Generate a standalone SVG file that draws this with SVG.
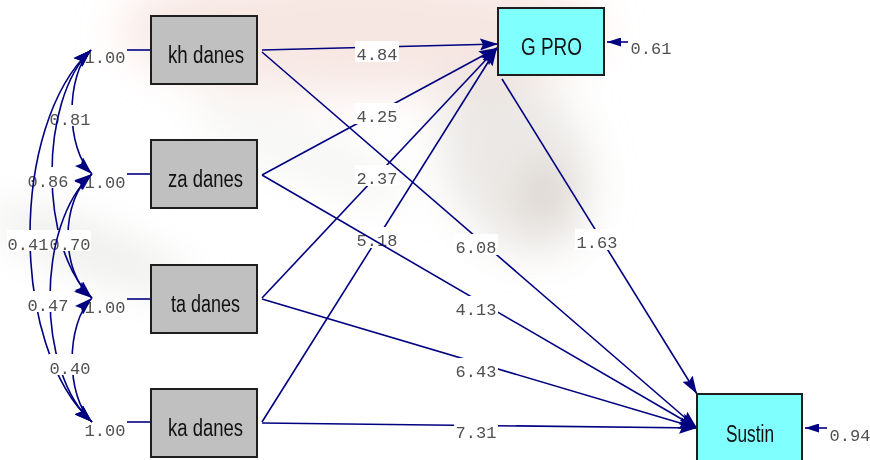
<svg xmlns="http://www.w3.org/2000/svg" width="870" height="460" viewBox="0 0 870 460">
  <defs>
    <filter id="soft" x="-50%" y="-50%" width="200%" height="200%">
      <feGaussianBlur stdDeviation="22"/>
    </filter>
    <marker id="ah" viewBox="0 0 18 12" refX="18" refY="6" markerWidth="18" markerHeight="12" markerUnits="userSpaceOnUse" orient="auto-start-reverse">
      <path d="M0,0 L18,6 L0,12 L3,6 Z" fill="#000080"/>
    </marker>
    <marker id="ahs" viewBox="0 0 14 9" refX="14" refY="4.5" markerWidth="14" markerHeight="9" markerUnits="userSpaceOnUse" orient="auto">
      <path d="M0,0 L14,4.5 L0,9 Z" fill="#000080"/>
    </marker>
  </defs>
  <style>
    .obs rect { fill: #c0c0c0; stroke: #1e1e1e; stroke-width: 2; }
    .lat rect { fill: #80ffff; stroke: #1e1e1e; stroke-width: 2; }
    .name { font-family: "Liberation Sans", Arial, sans-serif; font-size: 23px; fill: #111; }
    .num { font-family: "Liberation Mono", "Courier New", monospace; font-size: 17px; fill: #505050; text-anchor: middle; }
    .bg { fill: #ffffff; }
    .ln { fill: none; stroke: #000080; stroke-width: 1.6; }
    .arr { marker-end: url(#ah); }
    .err { marker-end: url(#ahs); }
    .dbl { marker-start: url(#ah); marker-end: url(#ah); }
  </style>

  <!-- faint watermark photo behind the model -->
  <rect width="870" height="460" fill="#ffffff"/>
  <g filter="url(#soft)">
    <ellipse cx="360" cy="30" rx="240" ry="65" fill="#f2dad4" opacity="0.65"/>
    <ellipse cx="515" cy="160" rx="70" ry="100" fill="#d2cec8" opacity="0.45" transform="rotate(-25 515 160)"/>
    <ellipse cx="545" cy="195" rx="22" ry="32" fill="#bfaea6" opacity="0.4"/>
    <ellipse cx="90" cy="250" rx="110" ry="22" fill="#dcdcd8" opacity="0.55" transform="rotate(20 90 250)"/>
    <ellipse cx="300" cy="150" rx="120" ry="25" fill="#e8e8e4" opacity="0.45" transform="rotate(25 300 150)"/>
  </g>

  <!-- variances of the observed variables -->
  <g id="variances">
    <line class="ln" x1="127" y1="50" x2="151" y2="50"/>
    <line class="ln" x1="127" y1="174" x2="151" y2="174"/>
    <line class="ln" x1="127" y1="299" x2="151" y2="299"/>
    <line class="ln" x1="127" y1="422" x2="151" y2="422"/>
    <text class="num" x="105" y="63">1.00</text>
    <text class="num" x="105" y="188">1.00</text>
    <text class="num" x="105" y="313">1.00</text>
    <text class="num" x="105" y="436">1.00</text>
  </g>

  <g id="connectors">
    <!-- covariances between the four observed variables -->
    <g>
      <path class="ln dbl" d="M91,50 C65.5,75 65.5,149 92,174"/>
      <rect class="bg" x="49" y="105" width="42" height="21"/>
      <text class="num" x="70" y="125">0.81</text>
    </g>
    <g>
      <path class="ln dbl" d="M91,50 C38.8,100 38.8,248 92,298"/>
      <rect class="bg" x="27" y="167" width="42" height="21"/>
      <text class="num" x="48" y="187">0.86</text>
    </g>
    <g>
      <path class="ln dbl" d="M91,50 C9.5,125 9.5,347 92,422"/>
      <rect class="bg" x="7" y="230" width="42" height="21"/>
      <text class="num" x="28" y="250">0.41</text>
    </g>
    <g>
      <path class="ln dbl" d="M92,174 C60,199 60,273 92,298"/>
      <rect class="bg" x="49" y="230" width="42" height="21"/>
      <text class="num" x="70" y="250">0.70</text>
    </g>
    <g>
      <path class="ln dbl" d="M92,174 C36,224 36,372 92,422"/>
      <rect class="bg" x="27" y="291" width="42" height="21"/>
      <text class="num" x="48" y="311">0.47</text>
    </g>
    <g>
      <path class="ln dbl" d="M92,298 C65.5,323 65.5,397 92,422"/>
      <rect class="bg" x="49" y="354" width="42" height="21"/>
      <text class="num" x="70" y="374">0.40</text>
    </g>

    <!-- paths into G PRO -->
    <g>
      <line class="ln arr" x1="262" y1="50" x2="498" y2="44"/>
      <rect class="bg" x="355" y="41" width="44" height="21"/>
      <text class="num" x="377" y="60">4.84</text>
    </g>
    <g>
      <line class="ln arr" x1="262" y1="175" x2="497" y2="48"/>
      <rect class="bg" x="355" y="103" width="44" height="21"/>
      <text class="num" x="377" y="122">4.25</text>
    </g>
    <g>
      <line class="ln arr" x1="262" y1="298" x2="497" y2="48"/>
      <rect class="bg" x="355" y="165" width="44" height="21"/>
      <text class="num" x="377" y="184">2.37</text>
    </g>
    <g>
      <line class="ln arr" x1="262" y1="422" x2="497" y2="48"/>
      <rect class="bg" x="355" y="227" width="44" height="21"/>
      <text class="num" x="377" y="246">5.18</text>
    </g>

    <!-- paths into Sustin -->
    <g>
      <line class="ln arr" x1="262" y1="52" x2="697" y2="428"/>
      <rect class="bg" x="454" y="234" width="44" height="21"/>
      <text class="num" x="476" y="253">6.08</text>
    </g>
    <g>
      <line class="ln arr" x1="262" y1="175" x2="697" y2="428"/>
      <rect class="bg" x="454" y="296" width="44" height="21"/>
      <text class="num" x="476" y="315">4.13</text>
    </g>
    <g>
      <line class="ln arr" x1="262" y1="299" x2="697" y2="428"/>
      <rect class="bg" x="454" y="358" width="44" height="21"/>
      <text class="num" x="476" y="377">6.43</text>
    </g>
    <g>
      <line class="ln arr" x1="262" y1="423" x2="697" y2="428"/>
      <rect class="bg" x="454" y="419" width="44" height="21"/>
      <text class="num" x="476" y="438">7.31</text>
    </g>
    <g>
      <line class="ln arr" x1="502" y1="79" x2="697" y2="394"/>
      <rect class="bg" x="575" y="229" width="44" height="21"/>
      <text class="num" x="597" y="248">1.63</text>
    </g>

    <!-- error variances -->
    <g>
      <line class="ln err" x1="628" y1="42" x2="607" y2="42"/>
      <text class="num" x="651" y="54">0.61</text>
    </g>
    <g>
      <line class="ln err" x1="827" y1="428" x2="805" y2="428"/>
      <text class="num" x="850" y="441">0.94</text>
    </g>
  </g>

  <g id="kh-danes" class="obs">
    <rect x="151" y="16" width="106" height="68"/>
    <text class="name" x="168" y="63" textLength="76" lengthAdjust="spacingAndGlyphs">kh danes</text>
  </g>
  <g id="za-danes" class="obs">
    <rect x="151" y="140" width="106" height="68"/>
    <text class="name" x="168" y="187" textLength="75" lengthAdjust="spacingAndGlyphs">za danes</text>
  </g>
  <g id="ta-danes" class="obs">
    <rect x="151" y="265" width="106" height="68"/>
    <text class="name" x="171" y="312" textLength="69" lengthAdjust="spacingAndGlyphs">ta danes</text>
  </g>
  <g id="ka-danes" class="obs">
    <rect x="151" y="389" width="106" height="68"/>
    <text class="name" x="168" y="436" textLength="75" lengthAdjust="spacingAndGlyphs">ka danes</text>
  </g>
  <g id="g-pro" class="lat">
    <rect x="498" y="8" width="106" height="67"/>
    <text class="name" x="521" y="55" textLength="61" lengthAdjust="spacingAndGlyphs">G PRO</text>
  </g>
  <g id="sustin" class="lat">
    <rect x="697" y="394" width="105" height="70"/>
    <text class="name" x="726" y="442" textLength="48" lengthAdjust="spacingAndGlyphs">Sustin</text>
  </g>
</svg>
